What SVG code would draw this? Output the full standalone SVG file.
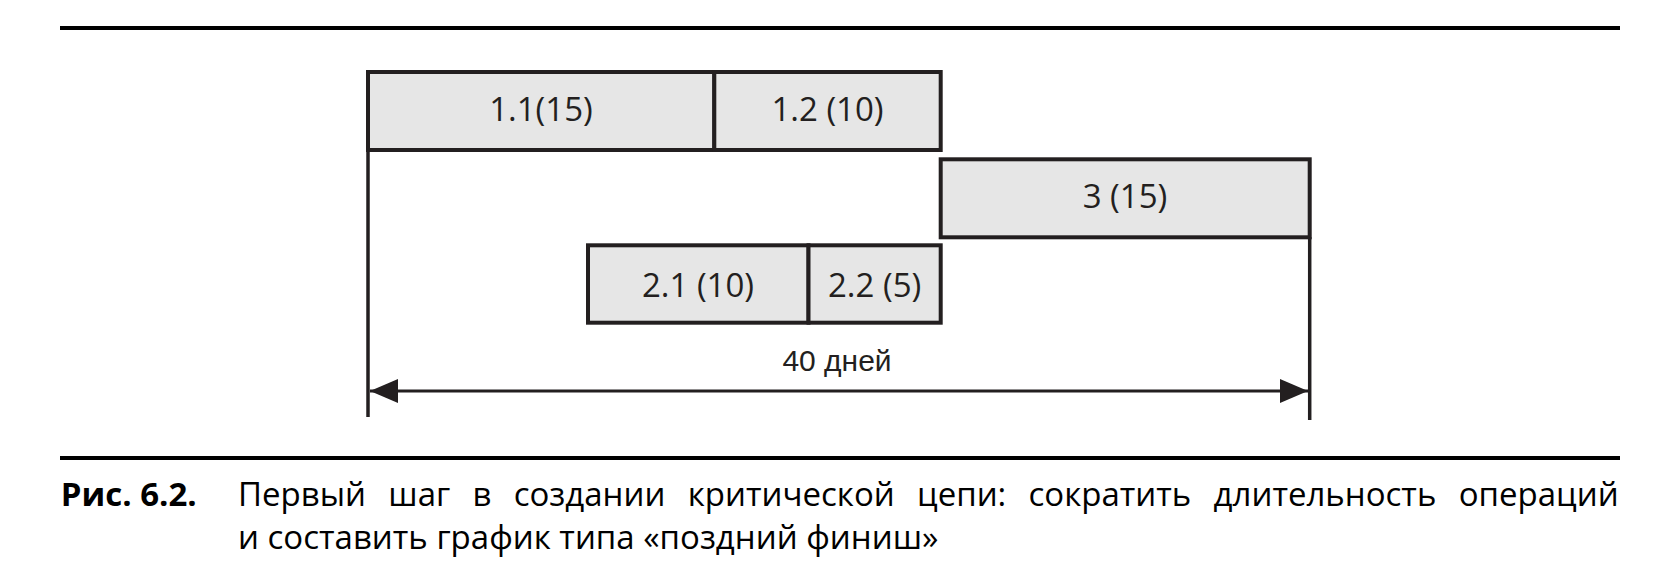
<svg xmlns="http://www.w3.org/2000/svg" width="1675" height="585" viewBox="0 0 1675 585">
<style>
.task rect{fill:#e6e6e6;stroke:#231f20;stroke-width:4}
.task text{font-family:"Open Sans","Noto Sans",sans-serif;font-size:33px;fill:#231f20;text-anchor:middle}
.rule{stroke:#000;stroke-width:4}
.ext{stroke:#231f20;stroke-width:3.5;fill:none}
.dim{stroke:#231f20;stroke-width:3;fill:none}
.cap{font-family:"Open Sans","Noto Sans",sans-serif;font-size:33px;fill:#000}
</style>
<defs>
<marker id="ah" markerUnits="userSpaceOnUse" viewBox="0 0 28 24" refX="28" refY="12" markerWidth="28" markerHeight="24" orient="auto-start-reverse">
<path d="M0,0 L28,12 L0,24 Z" fill="#231f20"/>
</marker>
</defs>
<line class="rule" x1="60" y1="28" x2="1620" y2="28"/>
<g id="connectors">
<line class="ext" x1="368" y1="150" x2="368" y2="417"/>
<line class="ext" x1="1309.7" y1="237" x2="1309.7" y2="420"/>
<line class="dim" x1="370" y1="391" x2="1308" y2="391" marker-start="url(#ah)" marker-end="url(#ah)"/>
</g>
<g id="task-1-1" class="task"><rect x="368" y="72" width="346.3" height="78"/><text x="541" y="121">1.1(15)</text></g>
<g id="task-1-2" class="task"><rect x="714.3" y="72" width="226.4" height="78"/><text x="827.5" y="121">1.2 (10)</text></g>
<g id="task-3" class="task"><rect x="940.7" y="159.3" width="369" height="78"/><text x="1125" y="208">3 (15)</text></g>
<g id="task-2-1" class="task"><rect x="588" y="245.3" width="220.5" height="77.4"/><text x="698" y="297">2.1 (10)</text></g>
<g id="task-2-2" class="task"><rect x="808.5" y="245.3" width="132.2" height="77.4"/><text x="874.6" y="297">2.2 (5)</text></g>
<text id="duration" x="837" y="371" font-family="Liberation Sans, Arial, sans-serif" font-size="30" text-anchor="middle" fill="#231f20">40 дней</text>
<line class="rule" x1="60" y1="458" x2="1620" y2="458"/>
<g id="caption">
<text class="cap" x="60.7" y="506" font-weight="bold" font-size="34">Рис. 6.2.</text>
<text class="cap" x="238" y="506" word-spacing="13.7">Первый шаг в создании критической цепи: сократить длительность операций</text>
<text class="cap" x="238" y="549">и составить график типа «поздний финиш»</text>
</g>
</svg>
